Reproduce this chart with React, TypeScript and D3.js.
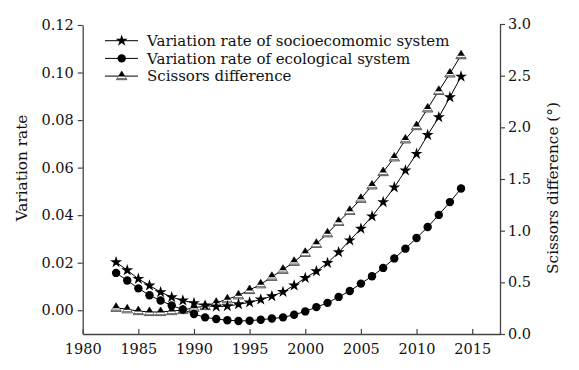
import { useRef, useEffect } from 'react';
import * as d3 from 'd3';

const years = [
  1983, 1984, 1985, 1986, 1987, 1988, 1989, 1990, 1991, 1992, 1993, 1994, 1995, 1996, 1997, 1998,
  1999, 2000, 2001, 2002, 2003, 2004, 2005, 2006, 2007, 2008, 2009, 2010, 2011, 2012, 2013, 2014,
];

// variation rate of socioeconomic system (left axis)
const socio = [
  0.0202, 0.0168, 0.0132, 0.0104, 0.0076, 0.0055, 0.0041, 0.003, 0.002, 0.0015, 0.0017, 0.0025,
  0.0033, 0.0045, 0.0059, 0.0077, 0.0104, 0.0136, 0.0164, 0.0199, 0.0244, 0.0294, 0.0343, 0.0395,
  0.0455, 0.0517, 0.0588, 0.0658, 0.0737, 0.0812, 0.0896, 0.0983,
];

// variation rate of ecological system (left axis)
const eco = [
  0.0157, 0.0125, 0.0092, 0.0063, 0.0041, 0.002, 0.0003, -0.0016, -0.003, -0.0037, -0.0042,
  -0.0045, -0.0044, -0.004, -0.0035, -0.003, -0.0019, -0.0005, 0.0013, 0.0031, 0.0056, 0.0081,
  0.0112, 0.0143, 0.0178, 0.0218, 0.0259, 0.0304, 0.035, 0.0401, 0.0455, 0.0512,
];

// scissors difference (right axis)
const scissors = [
  0.254, 0.239, 0.222, 0.213, 0.213, 0.222, 0.232, 0.254, 0.271, 0.303, 0.336, 0.374, 0.426,
  0.481, 0.554, 0.622, 0.699, 0.786, 0.873, 0.974, 1.086, 1.192, 1.309, 1.438, 1.567, 1.709,
  1.883, 2.012, 2.183, 2.353, 2.521, 2.698,
];

const xTicks = [1980, 1985, 1990, 1995, 2000, 2005, 2010, 2015];
const yLeftTicks = [0, 0.02, 0.04, 0.06, 0.08, 0.1, 0.12];
const yRightTicks = [0, 0.5, 1, 1.5, 2, 2.5, 3];

const legendLabels = [
  'Variation rate of socioecomomic system',
  'Variation rate of ecological system',
  'Scissors difference',
];

const width = 579;
const height = 370;
const font = 'DejaVu Serif';
const axisColor = '#444';

const x = d3.scaleLinear().domain([1980, 2017.5]).range([82.7, 500]);
const yL = d3.scaleLinear().domain([-0.01, 0.12]).range([334, 25]);
const yR = d3.scaleLinear().domain([0, 3]).range([334, 24]);

const starPath = d3.symbol(d3.symbolStar, 44)()!;

// triangle marker: black top, white stripe, grey base
const tTop = -5;
const tBot = 3.6;
const tHalf = 5.2;
const hw = (y: number) => (tHalf * (y - tTop)) / (tBot - tTop);
const band = (y0: number, y1: number) =>
  `M${-hw(y0)},${y0}L${hw(y0)},${y0}L${hw(y1)},${y1}L${-hw(y1)},${y1}Z`;
const triOuter = `M0,${tTop}L${tHalf},${tBot}L${-tHalf},${tBot}Z`;
const triWhite = band(0.5, 2.1);
const triGrey = band(2.1, tBot);

function Star({ cx, cy }: { cx: number; cy: number }) {
  return <path d={starPath} transform={`translate(${cx},${cy})`} fill='#000' />;
}
function Dot({ cx, cy }: { cx: number; cy: number }) {
  return <circle cx={cx} cy={cy} r={4.2} fill='#000' />;
}
function Tri({ cx, cy }: { cx: number; cy: number }) {
  return (
    <g transform={`translate(${cx},${cy})`}>
      <path d={triOuter} fill='#000' stroke='#000' strokeWidth={0.6} />
      <path d={triWhite} fill='#fff' />
      <path d={triGrey} fill='#8a8a8a' />
    </g>
  );
}

function styleAxis(g: d3.Selection<SVGGElement, unknown, null, undefined>) {
  g.attr('font-family', font).attr('font-size', 14.5);
  g.select('.domain').attr('stroke', axisColor).attr('stroke-width', 1.3);
  g.selectAll('.tick line').attr('stroke', axisColor).attr('stroke-width', 1.2);
  g.selectAll('.tick text').attr('fill', '#111');
}

export default function App() {
  const leftRef = useRef<SVGGElement>(null);
  const rightRef = useRef<SVGGElement>(null);
  const bottomRef = useRef<SVGGElement>(null);

  useEffect(() => {
    const l = d3.select(leftRef.current!);
    l.call(
      d3.axisLeft(yL).tickValues(yLeftTicks).tickFormat(d3.format('.2f')).tickSizeInner(5).tickSizeOuter(0).tickPadding(4)
    );
    styleAxis(l);

    const r = d3.select(rightRef.current!);
    r.call(
      d3.axisRight(yR).tickValues(yRightTicks).tickFormat(d3.format('.1f')).tickSizeInner(5).tickSizeOuter(0).tickPadding(3)
    );
    styleAxis(r);

    const b = d3.select(bottomRef.current!);
    b.call(
      d3.axisBottom(x).tickValues(xTicks).tickFormat(d3.format('d')).tickSizeInner(-5).tickSizeOuter(0).tickPadding(10)
    );
    styleAxis(b);
  }, []);

  const lineL = d3
    .line<number>()
    .x((_, i) => x(years[i]))
    .y((d) => yL(d));
  const lineR = d3
    .line<number>()
    .x((_, i) => x(years[i]))
    .y((d) => yR(d));

  return (
    <div style={{ position: 'absolute', left: 0, top: 0, width, height, background: '#fff' }}>
      <svg width={width} height={height} fontFamily={font} fontSize={15.3}>
        <g ref={leftRef} transform={`translate(${x(1980)},0)`} />
        <g ref={rightRef} transform={`translate(${x(2017.5)},0)`} />
        <g ref={bottomRef} transform={`translate(0,${yL(-0.01)})`} />

        {/* series lines */}
        <path d={lineR(scissors)!} fill='none' stroke='#000' strokeWidth={1} />
        <path d={lineL(socio)!} fill='none' stroke='#000' strokeWidth={1} />
        <path d={lineL(eco)!} fill='none' stroke='#000' strokeWidth={1} />

        {/* markers */}
        {scissors.map((d, i) => (
          <Tri key={`t${i}`} cx={x(years[i])} cy={yR(d)} />
        ))}
        {eco.map((d, i) => (
          <Dot key={`c${i}`} cx={x(years[i])} cy={yL(d)} />
        ))}
        {socio.map((d, i) => (
          <Star key={`s${i}`} cx={x(years[i])} cy={yL(d)} />
        ))}

        {/* axis titles */}
        <text transform='translate(27,168) rotate(-90)' textAnchor='middle' fill='#111'>
          Variation rate
        </text>
        <text transform='translate(558,188) rotate(-90)' textAnchor='middle' fill='#111'>
          Scissors difference (°)
        </text>

        {/* legend */}
        {legendLabels.map((label, i) => {
          const ly = 40.7 + i * 17.7;
          return (
            <g key={label}>
              <line x1={105} x2={138} y1={ly} y2={ly} stroke='#000' strokeWidth={1} />
              {i === 0 && <Star cx={121.7} cy={ly} />}
              {i === 1 && <Dot cx={121.7} cy={ly} />}
              {i === 2 && <Tri cx={121.7} cy={ly} />}
              <text x={147} y={ly} dy='0.35em' fill='#111' fontSize={15}>
                {label}
              </text>
            </g>
          );
        })}
      </svg>
    </div>
  );
}
